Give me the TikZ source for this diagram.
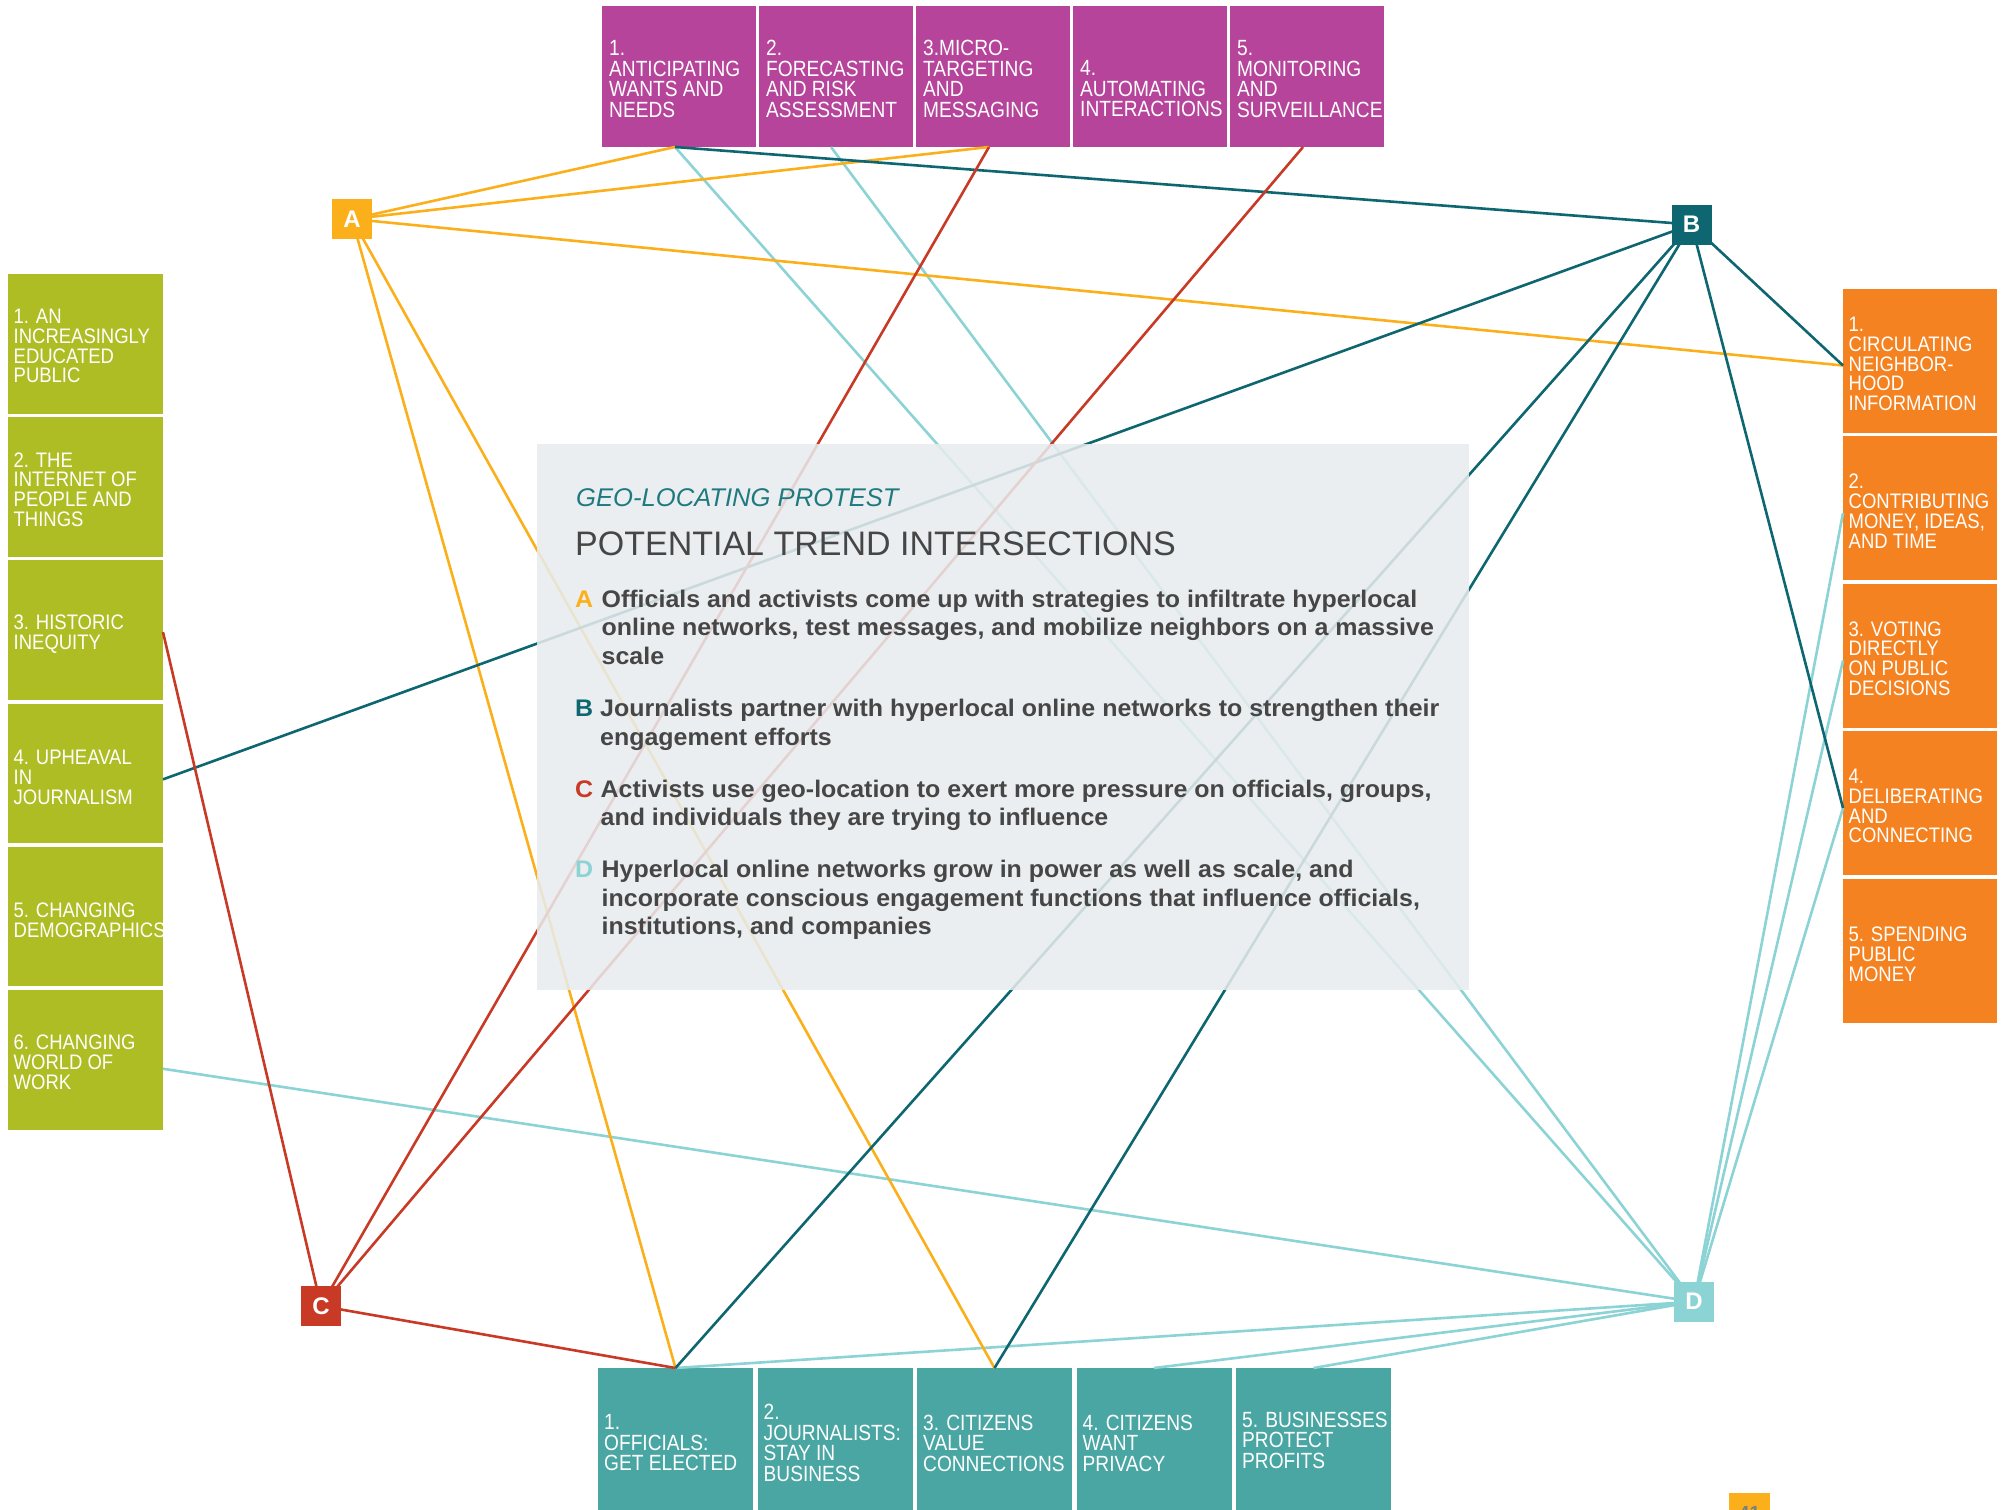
\documentclass[tikz,border=0pt]{standalone}
\usepackage{fontspec}
\setmainfont{Liberation Sans}
\newfontfamily\condfont[FakeStretch=0.87]{Liberation Sans}
\newfontfamily\sidefont[FakeStretch=0.88]{Liberation Sans}
\newfontfamily\bodyfont[FakeStretch=1.04]{Liberation Sans}
\usetikzlibrary{calc}
\definecolor{cMag}{HTML}{B5449A}
\definecolor{cGreen}{HTML}{AEBD24}
\definecolor{cOrange}{HTML}{F58220}
\definecolor{cTealBox}{HTML}{49A6A3}
\definecolor{cA}{HTML}{FBB01B}
\definecolor{cB}{HTML}{0E6770}
\definecolor{cC}{HTML}{C83926}
\definecolor{cD}{HTML}{8CD3D5}
\definecolor{cPanel}{HTML}{E8ECEE}
\definecolor{cText}{HTML}{464646}
\definecolor{cTitle}{HTML}{1F7A80}
\definecolor{cPage}{HTML}{7F7F7F}
\tikzset{
  boxbase/.style={anchor=north west, inner sep=0pt, outer sep=0pt, draw=none},
  topbox/.style={boxbase, fill=cMag, minimum width=154pt, minimum height=141pt},
  botbox/.style={boxbase, fill=cTealBox, minimum width=155pt, minimum height=160pt},
  leftbox/.style={boxbase, fill=cGreen, minimum width=155pt, minimum height=139.5pt},
  rightbox/.style={boxbase, fill=cOrange, minimum width=154pt, minimum height=144pt},
  condtext/.style={anchor=west, align=left, inner sep=0pt, text=white, font={\condfont\fontsize{22}{20.5}\selectfont}},
  sidetext/.style={anchor=west, align=left, inner sep=0pt, text=white, font={\sidefont\fontsize{21}{19.8}\selectfont}},
  marker/.style={minimum size=40pt, inner sep=0pt, outer sep=0pt, text=white, font={\bfseries\fontsize{24}{24}\selectfont}},
  conn/.style={line width=2.6pt},
  lA/.style={conn, draw=cA},
  lB/.style={conn, draw=cB},
  lC/.style={conn, draw=cC},
  lD/.style={conn, draw=cD},
  bodyline/.style={anchor=base west, inner sep=0pt, text=cText, font={\bodyfont\bfseries\fontsize{24}{28}\selectfont}},
  bodyletter/.style={anchor=base west, inner sep=0pt, font={\bodyfont\bfseries\fontsize{24}{28}\selectfont}},
}
\begin{document}
\begin{tikzpicture}[x=1pt,y=-1pt]
\useasboundingbox (0,0) rectangle (2011,1510);
\fill[white] (0,0) rectangle (2011,1510);

% ---- top boxes
\node[topbox] (T1) at (602,6) {};
\node[topbox] (T2) at (759,6) {};
\node[topbox] (T3) at (916,6) {};
\node[topbox] (T4) at (1073,6) {};
\node[topbox] (T5) at (1230,6) {};
% ---- bottom boxes
\node[botbox] (U1) at (598,1367.5) {};
\node[botbox] (U2) at (757.5,1367.5) {};
\node[botbox] (U3) at (917,1367.5) {};
\node[botbox] (U4) at (1076.5,1367.5) {};
\node[botbox] (U5) at (1236,1367.5) {};
% ---- left boxes
\node[leftbox] (L1) at (8,274) {};
\node[leftbox] (L2) at (8,417.2) {};
\node[leftbox] (L3) at (8,560.4) {};
\node[leftbox] (L4) at (8,703.6) {};
\node[leftbox] (L5) at (8,846.8) {};
\node[leftbox] (L6) at (8,990) {};
% ---- right boxes
\node[rightbox] (R1) at (1843,288.5) {};
\node[rightbox] (R2) at (1843,436) {};
\node[rightbox] (R3) at (1843,583.5) {};
\node[rightbox] (R4) at (1843,731) {};
\node[rightbox] (R5) at (1843,878.5) {};

% ---- markers (positions)
\coordinate (Ac) at (352,219);
\coordinate (Bc) at (1691.5,224.5);
\coordinate (Cc) at (321,1306);
\coordinate (Dc) at (1694,1301.7);

% attach points
\coordinate (T1a) at ($(T1.south)+(-4,0)$);
\coordinate (T2a) at ($(T2.south)+(-5,0)$);
\coordinate (T3a) at ($(T3.south)+(-4,0)$);
\coordinate (T5a) at ($(T5.south)+(-4,0)$);
\coordinate (U1a) at ($(U1.north)+(0,0.5)$);
\coordinate (U3a) at ($(U3.north)+(0,0.5)$);
\coordinate (U4a) at ($(U4.north)+(0,0.5)$);
\coordinate (U5a) at ($(U5.north)+(0,0.5)$);
\coordinate (L3a) at ($(L3.east)+(0,2)$);
\coordinate (L4a) at ($(L4.east)+(0,6)$);
\coordinate (L6a) at ($(L6.east)+(0,9)$);
\coordinate (R1a) at ($(R1.west)+(0,5)$);
\coordinate (R2a) at ($(R2.west)+(0,5)$);
\coordinate (R3a) at ($(R3.west)+(0,5)$);
\coordinate (R4a) at ($(R4.west)+(0,5)$);

% ---- connectors
\draw[lD] (Dc) -- (T1a);
\draw[lD] (Dc) -- (T2a);
\draw[lD] (Dc) -- (R2a);
\draw[lD] (Dc) -- (R3a);
\draw[lD] (Dc) -- (R4a);
\draw[lD] (Dc) -- (L6a);
\draw[lD] (Dc) -- (U1a);
\draw[lD] (Dc) -- (U4a);
\draw[lD] (Dc) -- (U5a);

\draw[lA] (Ac) -- (T1a);
\draw[lA] (Ac) -- (T3a);
\draw[lA] (Ac) -- (R1a);
\draw[lA] (Ac) -- (U1a);
\draw[lA] (Ac) -- (U3a);

\draw[lB] (Bc) -- (T1a);
\draw[lB] (Bc) -- (R1a);
\draw[lB] (Bc) -- (R4a);
\draw[lB] (Bc) -- (L4a);
\draw[lB] (Bc) -- (U1a);
\draw[lB] (Bc) -- (U3a);

\draw[lC] (Cc) -- (T3a);
\draw[lC] (Cc) -- (T5a);
\draw[lC] (Cc) -- (L3a);
\draw[lC] (Cc) -- (U1a);

% ---- markers
\node[marker, fill=cA] (A) at (Ac) {A};
\node[marker, fill=cB] (B) at (Bc) {B};
\node[marker, fill=cC] (C) at (Cc) {C};
\node[marker, fill=cD] (D) at (Dc) {D};

% ---- panel
\node[boxbase, fill=cPanel, fill opacity=0.86, minimum width=932pt, minimum height=546pt] (P) at (537,444) {};
\node[anchor=base west, inner sep=0pt, text=cTitle, font={\itshape\fontsize{25.6}{30}\selectfont}] (Pt1) at (576,506.7) {GEO-LOCATING PROTEST};
\node[anchor=base west, inner sep=0pt, text=cText, font={\fontsize{34}{40}\selectfont}] (Pt2) at (575,555) {POTENTIAL TREND INTERSECTIONS};

\node[bodyletter, text=cA] (PA) at (575,607) {A};
\node[bodyline] (PA1) at (601.5,607) {Officials and activists come up with strategies to infiltrate hyperlocal};
\node[bodyline] (PA2) at (601.5,635.5) {online networks, test messages, and mobilize neighbors on a massive};
\node[bodyline] (PA3) at (601.5,664) {scale};

\node[bodyletter, text=cB] (PB) at (575,716.5) {B};
\node[bodyline] (PB1) at (600,716.5) {Journalists partner with hyperlocal online networks to strengthen their};
\node[bodyline] (PB2) at (600,745) {engagement efforts};

\node[bodyletter, text=cC] (PC) at (575,797) {C};
\node[bodyline] (PC1) at (600.5,797) {Activists use geo-location to exert more pressure on officials, groups,};
\node[bodyline] (PC2) at (600.5,825.5) {and individuals they are trying to influence};

\node[bodyletter, text=cD] (PD) at (575,877.5) {D};
\node[bodyline] (PD1) at (601.5,877.5) {Hyperlocal online networks grow in power as well as scale, and};
\node[bodyline] (PD2) at (601.5,906) {incorporate conscious engagement functions that influence officials,};
\node[bodyline] (PD3) at (601.5,934.5) {institutions, and companies};

% ---- top box texts
\node[condtext] (T1t) at (609,79) {1.\\ANTICIPATING\\WANTS AND\\NEEDS};
\node[condtext] (T2t) at (766,79) {2.\\FORECASTING\\AND RISK\\ASSESSMENT};
\node[condtext] (T3t) at (923,79) {3.MICRO-\\TARGETING\\AND\\MESSAGING};
\node[condtext] (T4t) at (1080,89) {4.\\AUTOMATING\\INTERACTIONS};
\node[condtext] (T5t) at (1237,79) {5.\\MONITORING\\AND\\SURVEILLANCE};

% ---- bottom box texts
\node[condtext] (U1t) at (604,1443) {1.\\OFFICIALS:\\GET ELECTED};
\node[condtext] (U2t) at (763.5,1443) {2.\\JOURNALISTS:\\STAY IN\\BUSINESS};
\node[condtext] (U3t) at (923,1443) {3. CITIZENS\\VALUE\\CONNECTIONS};
\node[condtext] (U4t) at (1082.5,1443) {4. CITIZENS\\WANT\\PRIVACY};
\node[condtext] (U5t) at (1242,1440) {5. BUSINESSES\\PROTECT\\PROFITS};

% ---- left box texts
\node[sidetext] (L1t) at (13.5,346) {1. AN\\INCREASINGLY\\EDUCATED\\PUBLIC};
\node[sidetext] (L2t) at (13.5,489.5) {2. THE\\INTERNET OF\\PEOPLE AND\\THINGS};
\node[sidetext] (L3t) at (13.5,634) {3. HISTORIC\\INEQUITY};
\node[sidetext] (L4t) at (13.5,777.5) {4. UPHEAVAL\\IN\\JOURNALISM};
\node[sidetext] (L5t) at (13.5,920) {5. CHANGING\\DEMOGRAPHICS};
\node[sidetext] (L6t) at (13.5,1062) {6. CHANGING\\WORLD OF\\WORK};

% ---- right box texts
\node[sidetext] (R1t) at (1848.5,364) {1.\\CIRCULATING\\NEIGHBOR-\\HOOD\\INFORMATION};
\node[sidetext] (R2t) at (1848.5,511) {2.\\CONTRIBUTING\\MONEY, IDEAS,\\AND TIME};
\node[sidetext] (R3t) at (1848.5,658.5) {3. VOTING\\DIRECTLY\\ON PUBLIC\\DECISIONS};
\node[sidetext] (R4t) at (1848.5,806) {4.\\DELIBERATING\\AND\\CONNECTING};
\node[sidetext] (R5t) at (1848.5,954) {5. SPENDING\\PUBLIC\\MONEY};

% ---- page number
\node[boxbase, fill=cA, minimum width=41pt, minimum height=30pt] (pg) at (1729,1493) {};
\node[anchor=base, inner sep=0pt, text=cPage, font={\bfseries\fontsize{19}{19}\selectfont}] (pgn) at (1749.5,1519) {41};
\end{tikzpicture}
\end{document}
